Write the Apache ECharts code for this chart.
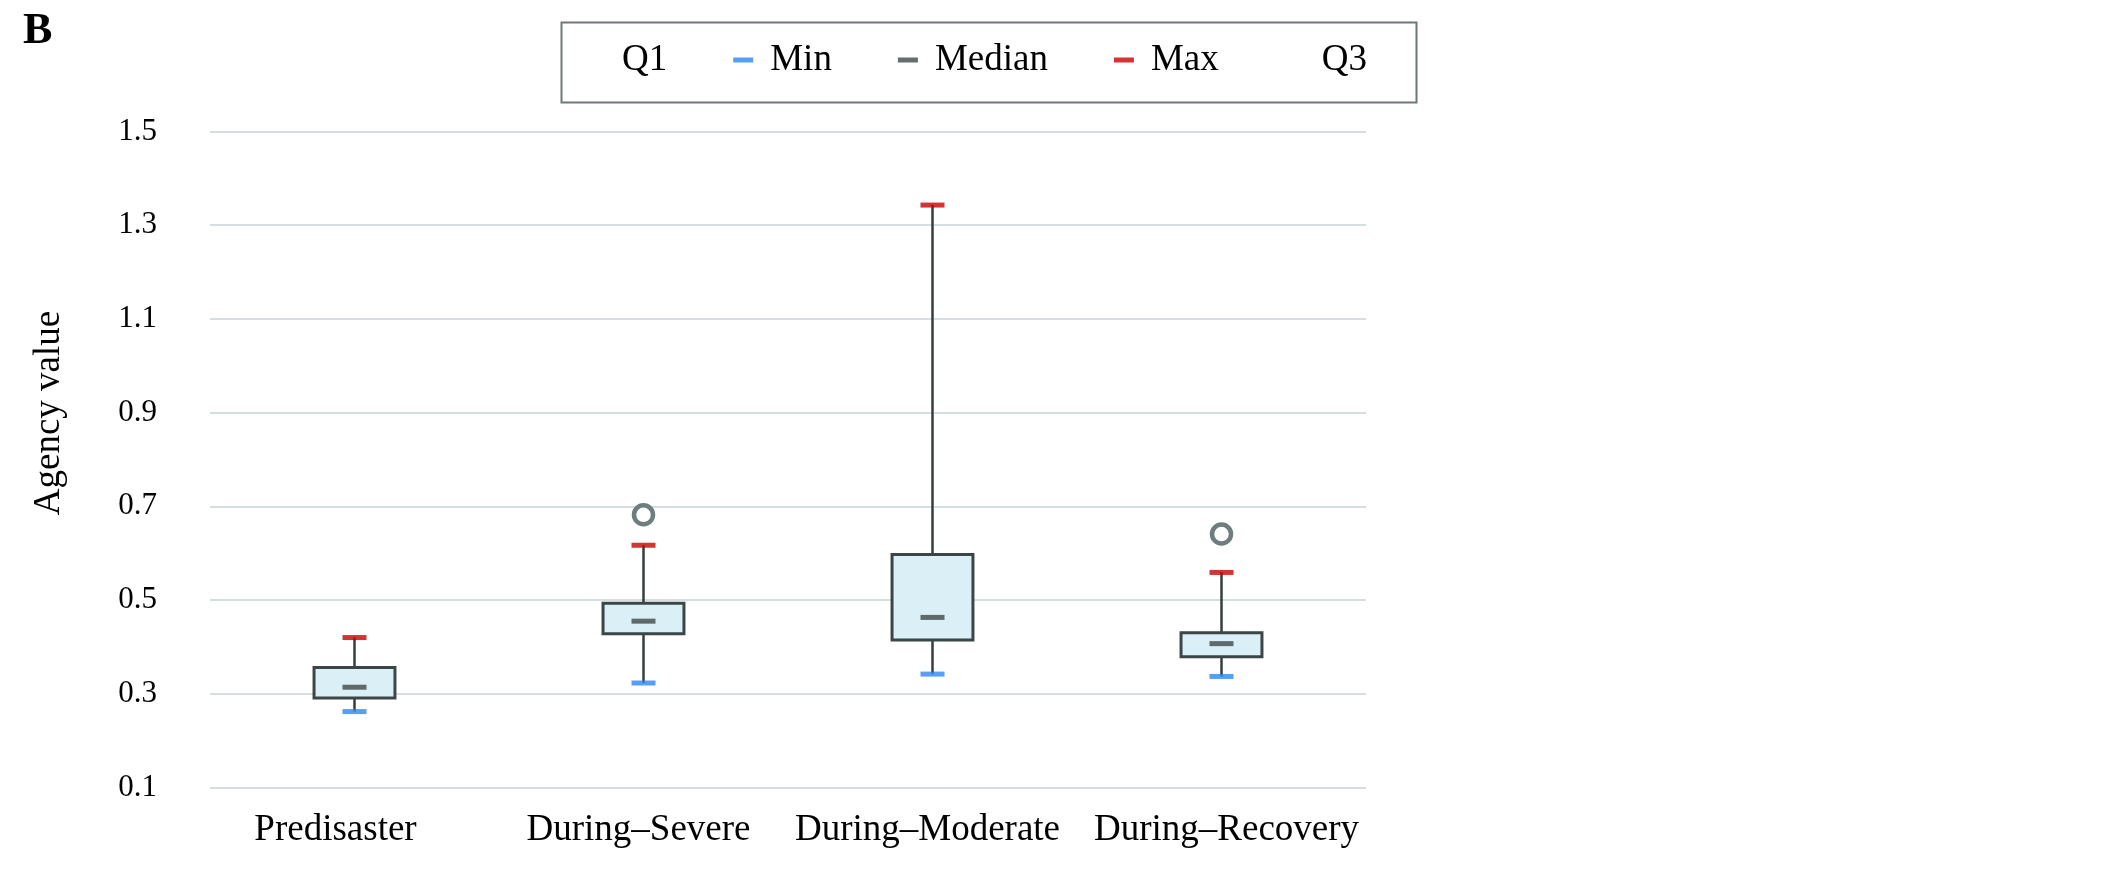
<!DOCTYPE html>
<html>
<head>
<meta charset="utf-8">
<script src="https://cdn.jsdelivr.net/npm/echarts@6/dist/echarts.min.js"></script>
<style>
html,body{margin:0;padding:0;background:#fff;}
#chart{width:2126px;height:874px;}
</style>
</head>
<body>
<div id="chart"></div>
<script>
const categories = ['Predisaster', 'During\u2013Severe', 'During\u2013Moderate', 'During\u2013Recovery'];
const minValues = [0.262, 0.323, 0.342, 0.337];
const q1Values = [0.291, 0.428, 0.415, 0.379];
const medianValues = [0.314, 0.455, 0.463, 0.407];
const q3Values = [0.356, 0.493, 0.597, 0.430];
const maxValues = [0.420, 0.617, 1.343, 0.559];
const outlierPoints = [[1, 0.682], [3, 0.641]];
const yTicks = { min: 0.1, max: 1.5, step: 0.2 };

const FONT = "'Liberation Serif', 'Times New Roman', serif";
const chart = echarts.init(document.getElementById('chart'), null, { renderer: 'canvas' });

const boxData = categories.map((c, i) => [i, minValues[i], q1Values[i], medianValues[i], q3Values[i], maxValues[i]]);
const pts = arr => arr.map((v, i) => [i, v]);
// small horizontal label nudges (px) seen in the original figure
const labelShift = [-19, -5, -5, 5];
const xAxisData = categories.map((c, i) => ({
  value: c,
  textStyle: { padding: labelShift[i] < 0 ? [0, -2 * labelShift[i], 0, 0] : [0, 0, 0, 2 * labelShift[i]] }
}));

const option = {
  backgroundColor: '#ffffff',
  animation: false,
  graphic: [
    { type: 'text', left: 23, top: 10, style: { text: 'B', font: 'bold 44px ' + FONT, fill: '#000' } },
    { type: 'rect', left: 559, top: 20, shape: { width: 855, height: 80 }, style: { fill: 'none', stroke: '#6e7878', lineWidth: 2 } },
    { type: 'text', x: 49, y: 413, rotation: Math.PI / 2, style: { text: 'Agency value', font: '37px ' + FONT, fill: '#000', align: 'center', verticalAlign: 'middle' } }
  ],
  legend: {
    left: 585,
    top: 40,
    padding: 0,
    itemGap: 66,
    itemWidth: 20,
    itemHeight: 5,
    textStyle: { fontFamily: FONT, fontSize: 37, color: '#000', padding: [0, 0, 0, 12], lineHeight: 40 },
    data: [
      { name: 'Q1', icon: 'none' },
      { name: 'Min', icon: 'rect' },
      { name: 'Median', icon: 'rect' },
      { name: 'Max', icon: 'rect' },
      { name: 'Q3', icon: 'none' }
    ]
  },
  grid: { left: 210, right: 760, top: 131.5, bottom: 86.5 },
  xAxis: {
    type: 'category',
    data: xAxisData,
    axisLine: { show: false },
    axisTick: { show: false },
    axisLabel: { interval: 0, fontFamily: FONT, fontSize: 37, color: '#000', margin: 24 }
  },
  yAxis: {
    type: 'value',
    min: yTicks.min,
    max: yTicks.max,
    interval: yTicks.step,
    axisLine: { show: false },
    axisTick: { show: false },
    axisLabel: { fontFamily: FONT, fontSize: 31, color: '#000', margin: 53, formatter: v => v.toFixed(1) },
    splitLine: { lineStyle: { color: '#d5dfdf', width: 2 } }
  },
  series: [
    {
      name: 'Box',
      type: 'custom',
      z: 2,
      data: boxData,
      encode: { x: 0, y: [1, 2, 3, 4, 5] },
      renderItem: function (params, api) {
        const x = api.value(0);
        const lo = api.coord([x, api.value(1)]);
        const q1 = api.coord([x, api.value(2)]);
        const q3 = api.coord([x, api.value(4)]);
        const hi = api.coord([x, api.value(5)]);
        const w = api.size([1, 0])[0] * 0.28;
        const lineStyle = { stroke: '#343e3e', lineWidth: 2.5 };
        return {
          type: 'group',
          children: [
            { type: 'line', shape: { x1: lo[0], y1: lo[1], x2: q1[0], y2: q1[1] }, style: lineStyle },
            { type: 'line', shape: { x1: q3[0], y1: q3[1], x2: hi[0], y2: hi[1] }, style: lineStyle },
            { type: 'rect', shape: { x: q1[0] - w / 2, y: q3[1], width: w, height: q1[1] - q3[1] }, style: { fill: '#daf0f6', stroke: '#3c4646', lineWidth: 3 } }
          ]
        };
      }
    },
    { name: 'Q1', type: 'scatter', data: pts(q1Values), symbolSize: 0, itemStyle: { color: 'transparent' }, z: 1 },
    { name: 'Min', type: 'scatter', data: pts(minValues), symbol: 'rect', symbolSize: [24, 5], itemStyle: { color: '#2f86f0' }, z: 4 },
    { name: 'Median', type: 'scatter', data: pts(medianValues), symbol: 'rect', symbolSize: [24, 5], itemStyle: { color: '#3f4848' }, z: 4 },
    { name: 'Max', type: 'scatter', data: pts(maxValues), symbol: 'rect', symbolSize: [24, 5], itemStyle: { color: '#c80000' }, z: 4 },
    { name: 'Q3', type: 'scatter', data: pts(q3Values), symbolSize: 0, itemStyle: { color: 'transparent' }, z: 1 },
    { name: 'Outlier', type: 'scatter', data: outlierPoints, symbol: 'circle', symbolSize: 19, itemStyle: { color: '#ffffff', borderColor: '#6e7e7e', borderWidth: 4.5, opacity: 1 }, z: 4 }
  ]
};
chart.setOption(option);
</script>
</body>
</html>
